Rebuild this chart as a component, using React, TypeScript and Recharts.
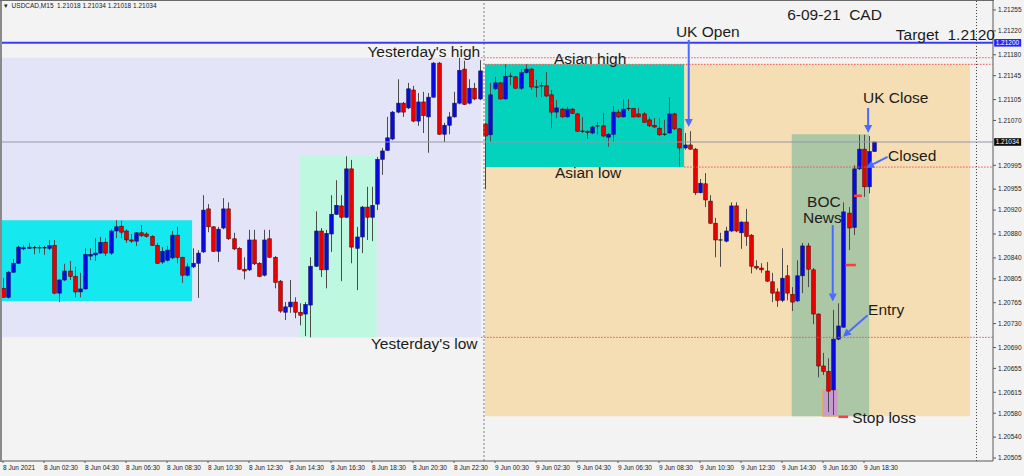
import React from 'react';
import { ComposedChart, Bar, XAxis, YAxis, ReferenceArea, ReferenceLine, ReferenceDot } from 'recharts';

// USDCAD M15, 8 Jun 00:30 -> 9 Jun 19:00, one entry per bar
const open = [
  1.20789, 1.20774, 1.20816, 1.20831, 1.20855, 1.20856, 1.20857, 1.20856, 1.20857, 1.20856,
  1.20861, 1.20781, 1.20803, 1.20818, 1.20809, 1.20783, 1.20788, 1.20843, 1.20845, 1.20848,
  1.20866, 1.20848, 1.20885, 1.20893, 1.20885, 1.20870, 1.20868, 1.20882, 1.20880, 1.20876,
  1.20861, 1.20833, 1.20836, 1.20840, 1.20878, 1.20841, 1.20811, 1.20825, 1.20831, 1.20850,
  1.20922, 1.20892, 1.20851, 1.20890, 1.20922, 1.20872, 1.20856, 1.20821, 1.20820, 1.20870,
  1.20831, 1.20811, 1.20872, 1.20841, 1.20801, 1.20749, 1.20758, 1.20766, 1.20749, 1.20746,
  1.20761, 1.20826, 1.20885, 1.20820, 1.20880, 1.20913, 1.20927, 1.20908, 1.20989, 1.20856,
  1.20875, 1.20925, 1.20908, 1.20930, 1.21005, 1.21020, 1.21039, 1.21084, 1.21099, 1.21091,
  1.21121, 1.21069, 1.21101, 1.21076, 1.21109, 1.21166, 1.21047, 1.21062, 1.21076, 1.21099,
  1.21156, 1.21099, 1.21124, 1.21106, 1.21064, 1.21046, 1.21123, 1.21133, 1.21106, 1.21144,
  1.21143, 1.21124, 1.21150, 1.21156, 1.21126, 1.21128, 1.21128, 1.21113, 1.21084, 1.21089,
  1.21076, 1.21089, 1.21081, 1.21052, 1.21052, 1.21049, 1.21060, 1.21061, 1.21042, 1.21047,
  1.21084, 1.21076, 1.21089, 1.21090, 1.21081, 1.21081, 1.21071, 1.21062, 1.21057, 1.21047,
  1.21049, 1.21081, 1.21056, 1.21024, 1.21029, 1.21022, 1.20949, 1.20964, 1.20935, 1.20898,
  1.20870, 1.20868, 1.20885, 1.20927, 1.20882, 1.20900, 1.20878, 1.20826, 1.20823, 1.20818,
  1.20800, 1.20783, 1.20769, 1.20810, 1.20779, 1.20768, 1.20810, 1.20860, 1.20820, 1.20746,
  1.20659, 1.20650, 1.20619, 1.20704, 1.20724, 1.20915, 1.20891, 1.20989, 1.21022, 1.20959,
  1.21018,
];
const high = [
  1.20806, 1.20818, 1.20838, 1.20860, 1.20861, 1.20865, 1.20860, 1.20861, 1.20860, 1.20870,
  1.20870, 1.20804, 1.20830, 1.20835, 1.20825, 1.20815, 1.20856, 1.20856, 1.20873, 1.20875,
  1.20873, 1.20888, 1.20903, 1.20902, 1.20888, 1.20880, 1.20883, 1.20895, 1.20883, 1.20878,
  1.20865, 1.20858, 1.20860, 1.20885, 1.20892, 1.20842, 1.20831, 1.20856, 1.20853, 1.20945,
  1.20930, 1.20893, 1.20892, 1.20940, 1.20933, 1.20882, 1.20858, 1.20841, 1.20887, 1.20887,
  1.20833, 1.20887, 1.20887, 1.20843, 1.20803, 1.20766, 1.20803, 1.20774, 1.20764, 1.20766,
  1.20841, 1.20918, 1.20890, 1.20887, 1.20945, 1.20970, 1.20945, 1.21010, 1.21004, 1.20892,
  1.20927, 1.20959, 1.20959, 1.21009, 1.21024, 1.21076, 1.21086, 1.21139, 1.21101, 1.21133,
  1.21128, 1.21116, 1.21118, 1.21116, 1.21168, 1.21168, 1.21066, 1.21084, 1.21118, 1.21175,
  1.21170, 1.21139, 1.21133, 1.21171, 1.21066, 1.21133, 1.21143, 1.21134, 1.21164, 1.21150,
  1.21144, 1.21156, 1.21164, 1.21158, 1.21138, 1.21134, 1.21151, 1.21121, 1.21104, 1.21091,
  1.21093, 1.21091, 1.21083, 1.21076, 1.21054, 1.21061, 1.21067, 1.21083, 1.21049, 1.21094,
  1.21088, 1.21106, 1.21106, 1.21091, 1.21091, 1.21084, 1.21076, 1.21074, 1.21074, 1.21071,
  1.21109, 1.21083, 1.21057, 1.21049, 1.21052, 1.21024, 1.20972, 1.20982, 1.20945, 1.20907,
  1.20882, 1.20892, 1.20933, 1.20933, 1.20901, 1.20922, 1.20880, 1.20836, 1.20831, 1.20833,
  1.20815, 1.20789, 1.20856, 1.20828, 1.20791, 1.20836, 1.20865, 1.20865, 1.20823, 1.20747,
  1.20681, 1.20672, 1.20753, 1.20764, 1.20933, 1.20925, 1.20995, 1.21046, 1.21046, 1.21044,
  1.21034,
];
const low = [
  1.20774, 1.20772, 1.20815, 1.20830, 1.20853, 1.20855, 1.20846, 1.20848, 1.20845, 1.20853,
  1.20779, 1.20766, 1.20801, 1.20803, 1.20774, 1.20774, 1.20787, 1.20836, 1.20835, 1.20847,
  1.20843, 1.20845, 1.20873, 1.20873, 1.20865, 1.20865, 1.20860, 1.20875, 1.20874, 1.20860,
  1.20830, 1.20830, 1.20834, 1.20838, 1.20831, 1.20798, 1.20809, 1.20823, 1.20773, 1.20848,
  1.20883, 1.20850, 1.20833, 1.20888, 1.20870, 1.20853, 1.20820, 1.20804, 1.20818, 1.20828,
  1.20808, 1.20809, 1.20840, 1.20789, 1.20748, 1.20736, 1.20748, 1.20739, 1.20727, 1.20709,
  1.20707, 1.20825, 1.20808, 1.20789, 1.20850, 1.20912, 1.20801, 1.20907, 1.20831, 1.20786,
  1.20848, 1.20870, 1.20868, 1.20920, 1.20979, 1.21019, 1.21037, 1.21082, 1.21076, 1.21089,
  1.21067, 1.21061, 1.21049, 1.21016, 1.21108, 1.21046, 1.21034, 1.21047, 1.21075, 1.21097,
  1.21096, 1.21097, 1.21104, 1.21104, 1.20955, 1.21034, 1.21121, 1.21105, 1.21105, 1.21129,
  1.21123, 1.21121, 1.21148, 1.21121, 1.21109, 1.21109, 1.21109, 1.21057, 1.21074, 1.21074,
  1.21075, 1.21081, 1.21051, 1.21049, 1.21039, 1.21047, 1.21047, 1.21042, 1.21026, 1.21034,
  1.21074, 1.21075, 1.21086, 1.21075, 1.21075, 1.21066, 1.21059, 1.21057, 1.21044, 1.21044,
  1.21048, 1.21054, 1.20992, 1.21021, 1.21021, 1.20945, 1.20948, 1.20925, 1.20897, 1.20841,
  1.20825, 1.20866, 1.20883, 1.20883, 1.20855, 1.20860, 1.20814, 1.20820, 1.20815, 1.20800,
  1.20766, 1.20758, 1.20766, 1.20769, 1.20751, 1.20766, 1.20781, 1.20791, 1.20729, 1.20640,
  1.20644, 1.20582, 1.20577, 1.20702, 1.20723, 1.20853, 1.20878, 1.20987, 1.20942, 1.20948,
  1.21018,
];
const close = [
  1.20774, 1.20816, 1.20831, 1.20858, 1.20857, 1.20858, 1.20856, 1.20857, 1.20856, 1.20861,
  1.20781, 1.20803, 1.20818, 1.20809, 1.20783, 1.20788, 1.20846, 1.20846, 1.20848, 1.20866,
  1.20848, 1.20885, 1.20892, 1.20883, 1.20870, 1.20868, 1.20882, 1.20877, 1.20876, 1.20861,
  1.20831, 1.20851, 1.20853, 1.20878, 1.20841, 1.20811, 1.20825, 1.20831, 1.20848, 1.20920,
  1.20892, 1.20851, 1.20888, 1.20922, 1.20872, 1.20855, 1.20821, 1.20818, 1.20870, 1.20830,
  1.20809, 1.20870, 1.20841, 1.20799, 1.20751, 1.20758, 1.20766, 1.20749, 1.20744, 1.20762,
  1.20826, 1.20885, 1.20820, 1.20881, 1.20913, 1.20928, 1.20908, 1.20989, 1.20858, 1.20875,
  1.20925, 1.20908, 1.20928, 1.21005, 1.21019, 1.21041, 1.21084, 1.21099, 1.21084, 1.21123,
  1.21069, 1.21101, 1.21078, 1.21109, 1.21166, 1.21047, 1.21062, 1.21076, 1.21099, 1.21154,
  1.21097, 1.21124, 1.21106, 1.21153, 1.21044, 1.21113, 1.21133, 1.21106, 1.21144, 1.21143,
  1.21124, 1.21150, 1.21156, 1.21126, 1.21125, 1.21127, 1.21111, 1.21084, 1.21091, 1.21076,
  1.21089, 1.21082, 1.21052, 1.21051, 1.21050, 1.21059, 1.21061, 1.21044, 1.21047, 1.21084,
  1.21076, 1.21089, 1.21090, 1.21076, 1.21076, 1.21067, 1.21061, 1.21059, 1.21046, 1.21046,
  1.21081, 1.21056, 1.21024, 1.21029, 1.21022, 1.20949, 1.20965, 1.20937, 1.20898, 1.20870,
  1.20869, 1.20885, 1.20927, 1.20885, 1.20900, 1.20876, 1.20826, 1.20823, 1.20820, 1.20801,
  1.20781, 1.20769, 1.20806, 1.20781, 1.20766, 1.20810, 1.20860, 1.20821, 1.20746, 1.20659,
  1.20650, 1.20617, 1.20704, 1.20726, 1.20917, 1.20890, 1.20989, 1.21022, 1.20959, 1.21018,
  1.21034,
];

// labels every 8 bars (2 hours)
const timeTicks = [
  '8 Jun 2021', '8 Jun 02:30', '8 Jun 04:30', '8 Jun 06:30', '8 Jun 08:30', '8 Jun 10:30',
  '8 Jun 12:30', '8 Jun 14:30', '8 Jun 16:30', '8 Jun 18:30', '8 Jun 20:30', '8 Jun 22:30',
  '9 Jun 00:30', '9 Jun 02:30', '9 Jun 04:30', '9 Jun 06:30', '9 Jun 08:30', '9 Jun 10:30',
  '9 Jun 12:30', '9 Jun 14:30', '9 Jun 16:30', '9 Jun 18:30',
];
const priceTicks = [
  1.21255, 1.2122, 1.2118, 1.21145, 1.21105, 1.2107, 1.20995, 1.20955, 1.2092, 1.2088,
  1.2084, 1.20805, 1.20765, 1.2073, 1.2069, 1.20655, 1.20615, 1.2058, 1.2054, 1.20505,
];

// levels
const yesterdayHigh = 1.21175;
const yesterdayLow = 1.20707;
const asianHigh = 1.21164;
const asianLow = 1.20992;
const target = 1.212;
const lastPrice = 1.21034;
const stopLoss = 1.20575;

// text notes: bar position, price, text
const notes = [
  { text: "Yesterday's high", bar: 93.1, price: 1.21177, anchor: 'end' },
  { text: 'Asian high', bar: 107.5, price: 1.21165, anchor: 'start' },
  { text: 'Asian low', bar: 107.7, price: 1.20973, anchor: 'start' },
  { text: "Yesterday's low", bar: 92.6, price: 1.20687, anchor: 'end' },
  { text: 'UK Open', bar: 131.3, price: 1.2121, anchor: 'start' },
  { text: 'UK Close', bar: 167.8, price: 1.21099, anchor: 'start' },
  { text: 'Closed', bar: 172.7, price: 1.21003, anchor: 'start' },
  { text: 'BOC', bar: 156.9, price: 1.20926, anchor: 'start' },
  { text: 'News', bar: 156.1, price: 1.20898, anchor: 'start' },
  { text: 'Entry', bar: 168.8, price: 1.20744, anchor: 'start' },
  { text: 'Stop loss', bar: 165.7, price: 1.20564, anchor: 'start' },
  { text: '6-09-21  CAD', bar: 153.0, price: 1.21239, anchor: 'start' },
  { text: 'Target  1.2120', bar: 174.2, price: 1.21204, anchor: 'start' },
];

// arrows: [bar, price] from -> to
const arrows = [
  { from: [133.8, 1.21205], to: [133.8, 1.21059] },
  { from: [168.8, 1.21091], to: [168.8, 1.21049] },
  { from: [172.6, 1.21009], to: [168.4, 1.20991] },
  { from: [168.7, 1.20744], to: [163.9, 1.20708] },
  { from: [161.9, 1.20895], to: [161.9, 1.20767] },
];

// short trade markers
const tradeMarks = [
  { from: 166.05, to: 167.6, price: 1.20944 },
  { from: 164.4, to: 166.4, price: 1.20828 },
  { from: 163.0, to: 164.9, price: 1.20574 },
];

const candles = open.map((o, i) => ({
  bar: i,
  o,
  h: high[i],
  l: low[i],
  c: close[i],
  span: [low[i], high[i]],
}));

const FONT = '"Liberation Sans", Arial, sans-serif';
const ARROW = '#4a6bff';
const DOTTED = '#f05050';
const X_END = 193.1;

const Candle = (props: any) => {
  const { x, y, width, height, payload } = props;
  if (!payload) return null;
  const top = Math.min(y, y + height);
  const len = Math.abs(height);
  const { o, h, l, c } = payload;
  const at = (p: number) => (h === l ? top : top + ((h - p) / (h - l)) * len);
  const cx = Math.round(x + width / 2) + 0.5;
  const up = c >= o;
  const yTop = at(Math.max(o, c));
  const yBot = at(Math.min(o, c));
  const bw = 3.6;
  return (
    <g>
      <line x1={cx} x2={cx} y1={top} y2={top + len} stroke="#4c4c4c" strokeWidth={1} />
      {yBot - yTop < 1 ? (
        <line x1={cx - 2} x2={cx + 2} y1={yTop} y2={yTop} stroke="#1e1e1e" strokeWidth={1.2} />
      ) : (
        <rect
          x={cx - bw / 2}
          y={yTop}
          width={bw}
          height={yBot - yTop}
          fill={up ? '#0a0ae0' : '#e80000'}
          stroke={up ? '#14145a' : '#6a0000'}
          strokeWidth={0.6}
        />
      )}
    </g>
  );
};

const Arrow = (props: any) => {
  const { x1, y1, x2, y2 } = props;
  const a = Math.atan2(y2 - y1, x2 - x1);
  const len = 8;
  const half = 4;
  const bx = x2 - len * Math.cos(a);
  const by = y2 - len * Math.sin(a);
  const px = -Math.sin(a) * half;
  const py = Math.cos(a) * half;
  return (
    <g>
      <line x1={x1} y1={y1} x2={bx} y2={by} stroke={ARROW} strokeWidth={2} />
      <polygon points={`${x2},${y2} ${bx + px},${by + py} ${bx - px},${by - py}`} fill={ARROW} />
    </g>
  );
};

const TimeTick = ({ x, y, payload }: any) => (
  <text x={x} y={y + 5} fontSize={6.5} fontFamily={FONT} fill="#222">
    {timeTicks[Math.round(payload.value / 8)]}
  </text>
);

const PriceTick = ({ x, y, payload }: any) => (
  <text x={x} y={y + 2.3} fontSize={6.5} fontFamily={FONT} fill="#222">
    {payload.value.toFixed(5)}
  </text>
);

const priceTag = (label: string, bg: string) => (p: any) => (
  <g>
    <rect x={p.cx + 1.5} y={p.cy - 3.8} width={27} height={7.6} fill={bg} />
    <text x={p.cx + 3} y={p.cy + 2.3} fontSize={6.5} fontFamily={FONT} fill="#fff">
      {label}
    </text>
  </g>
);

export default function App() {
  return (
    <div style={{ position: 'relative', width: 1024, height: 476, background: '#f3f3f3', overflow: 'hidden' }}>
      <style>{'body{margin:0;}'}</style>
      <ComposedChart
        width={1024}
        height={476}
        data={candles}
        margin={{ top: 1, right: 0, left: 2, bottom: 0 }}
      >
        <XAxis
          type="number"
          dataKey="bar"
          domain={[-0.195, 193.17]}
          allowDataOverflow
          ticks={timeTicks.map((_, k) => k * 8)}
          interval={0}
          tick={<TimeTick />}
          tickSize={2}
          axisLine={{ stroke: '#5a5a5a' }}
          tickLine={{ stroke: '#5a5a5a' }}
          height={15}
        />
        <YAxis
          type="number"
          orientation="right"
          domain={[1.205, 1.2127]}
          allowDataOverflow
          ticks={priceTicks}
          interval={0}
          tick={<PriceTick />}
          tickSize={3}
          width={31}
          axisLine={{ stroke: '#5a5a5a' }}
          tickLine={{ stroke: '#5a5a5a' }}
        />

        {/* yesterday's range */}
        <ReferenceArea x1={-1} x2={93.3} y1={yesterdayLow} y2={yesterdayHigh} fill="#e4e4f8" fillOpacity={1} ifOverflow="hidden" />
        <ReferenceArea x1={-1} x2={36.9} y1={1.20768} y2={1.20903} fill="#15e8ee" fillOpacity={1} ifOverflow="hidden" />
        <ReferenceArea x1={57.95} x2={72.9} y1={yesterdayLow} y2={1.21011} fill="#bef8e0" fillOpacity={1} />
        {/* today */}
        <ReferenceArea x1={94.05} x2={188.7} y1={stopLoss} y2={asianHigh} fill="#f5deb3" fillOpacity={1} />
        <ReferenceArea x1={94.05} x2={132.9} y1={asianLow} y2={asianHigh} fill="#03d3bd" fillOpacity={1} />
        <ReferenceArea x1={153.9} x2={169} y1={stopLoss} y2={1.21047} fill="#acc7a5" fillOpacity={1} />
        <ReferenceArea x1={159.9} x2={162.8} y1={stopLoss} y2={1.20619} fill="#c89ad2" fillOpacity={1} stroke="#d8b068" strokeWidth={1} />

        <Bar dataKey="span" barSize={5} shape={Candle} isAnimationActive={false} />

        <ReferenceLine x={93.85} stroke="#808080" strokeDasharray="2 2" />
        <ReferenceLine x={189.95} stroke="#404040" strokeDasharray="1 2" />
        <ReferenceLine y={lastPrice} stroke="#9696aa" strokeWidth={1} />
        <ReferenceLine y={target} stroke="#3b3bff" strokeWidth={2} />

        <ReferenceLine segment={[{ x: 93.3, y: yesterdayHigh }, { x: X_END, y: yesterdayHigh }]} stroke={DOTTED} strokeDasharray="1.5 1.5" />
        <ReferenceLine segment={[{ x: 94.05, y: asianHigh }, { x: X_END, y: asianHigh }]} stroke={DOTTED} strokeDasharray="1.5 1.5" />
        <ReferenceLine segment={[{ x: 132.9, y: asianLow }, { x: X_END, y: asianLow }]} stroke={DOTTED} strokeDasharray="1.5 1.5" />
        <ReferenceLine segment={[{ x: 93.3, y: yesterdayLow }, { x: X_END, y: yesterdayLow }]} stroke={DOTTED} strokeDasharray="1.5 1.5" />

        {tradeMarks.map((m, k) => (
          <ReferenceLine key={`m${k}`} segment={[{ x: m.from, y: m.price }, { x: m.to, y: m.price }]} stroke="#ff3b3b" strokeWidth={2.5} />
        ))}

        {arrows.map((a, k) => (
          <ReferenceLine
            key={`a${k}`}
            segment={[{ x: a.from[0], y: a.from[1] }, { x: a.to[0], y: a.to[1] }]}
            shape={Arrow}
          />
        ))}

        {notes.map((n, k) => (
          <ReferenceDot
            key={`n${k}`}
            x={n.bar}
            y={n.price}
            r={0}
            ifOverflow="visible"
            shape={(p: any) => (
              <text
                x={p.cx}
                y={p.cy}
                textAnchor={n.anchor as any}
                fontSize={15.5}
                fontFamily={FONT}
                fill="#1c1c1c"
                style={{ whiteSpace: 'pre' }}
              >
                {n.text}
              </text>
            )}
          />
        ))}

        <ReferenceDot x={193.1} y={target} r={0} ifOverflow="visible" shape={priceTag('1.21200', '#2424ff')} />
        <ReferenceDot x={193.1} y={lastPrice} r={0} ifOverflow="visible" shape={priceTag('1.21034', '#0c0c0c')} />
      </ComposedChart>

      {/* window frame */}
      <div style={{ position: 'absolute', left: 0, top: 0, width: 2, height: 462, background: '#8a8a8a' }} />
      <div style={{ position: 'absolute', left: 0, top: 0, width: 994, height: 1, background: '#6a6a6a' }} />
      <div
        style={{
          position: 'absolute',
          left: 4,
          top: 1,
          fontSize: 6.5,
          fontFamily: FONT,
          color: '#222',
          whiteSpace: 'pre',
          lineHeight: '9px',
        }}
      >
        {'\u25BE  USDCAD,M15  1.21018 1.21034 1.21018 1.21034'}
      </div>
    </div>
  );
}
